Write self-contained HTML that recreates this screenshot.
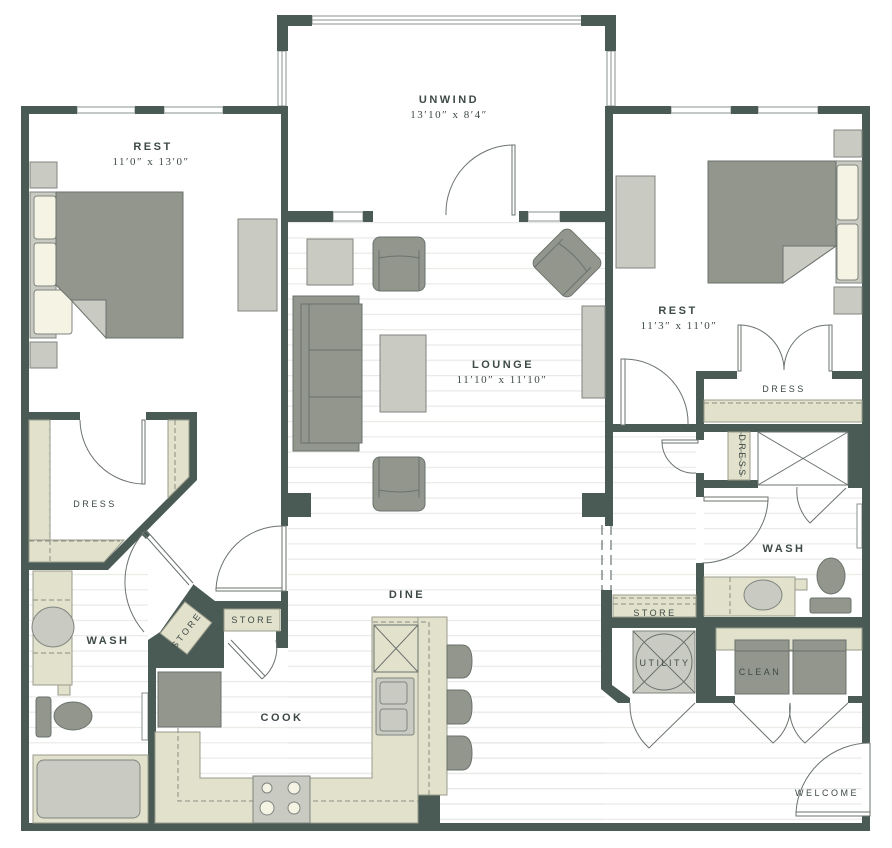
<!DOCTYPE html>
<html><head><meta charset="utf-8"><style>
html,body{margin:0;padding:0;background:#fff;}
svg{display:block;}
text{font-family:"Liberation Sans",sans-serif;fill:#3e4a46;letter-spacing:2.5px;text-anchor:middle;}
.s{font-family:"Liberation Serif",serif;letter-spacing:1.5px;font-size:11px;}
.l{font-size:11px;font-weight:bold;}
.m{font-size:9px;}
</style></head><body>
<svg width="892" height="848" viewBox="0 0 892 848" xmlns="http://www.w3.org/2000/svg">
<defs>
<pattern id="fl" x="0" y="222" width="892" height="15.3" patternUnits="userSpaceOnUse">
<rect x="0" y="0" width="892" height="1.2" fill="#e9eae7"/>
</pattern>
</defs>
<g stroke="none">
<rect x="288" y="222" width="317" height="601" fill="url(#fl)"/>
<rect x="440" y="703" width="422" height="120" fill="url(#fl)"/>
<rect x="612" y="432" width="84" height="165" fill="url(#fl)"/>
<rect x="704" y="488" width="158" height="90" fill="url(#fl)"/>
<rect x="29" y="570" width="119" height="185" fill="url(#fl)"/>
<rect x="156" y="668" width="216" height="110" fill="url(#fl)"/>
</g>

<g fill="#fff" stroke="#8a928d" stroke-width="1">
<rect x="312" y="16" width="270" height="8"/><line x1="312" y1="20" x2="582" y2="20"/>
<rect x="278" y="51" width="8" height="55"/><line x1="282" y1="51" x2="282" y2="106"/>
<rect x="607" y="51" width="8" height="55"/><line x1="611" y1="51" x2="611" y2="106"/>
<rect x="77" y="107" width="58" height="6"/><rect x="164" y="107" width="59" height="6"/>
<rect x="671" y="107" width="60" height="6"/><rect x="758" y="107" width="60" height="6"/>
<rect x="333" y="212" width="30" height="9"/><rect x="528" y="212" width="32" height="9"/>
<rect x="142" y="693" width="6" height="47"/><rect x="142" y="762" width="6" height="50"/>
<rect x="857" y="504" width="5" height="44"/>
</g>

<g fill="#4a5a55">
<path d="M277 15 H312 V26 H288 V51 H277 Z"/>
<path d="M581 15 H616 V51 H605 V26 H581 Z"/>
<rect x="21" y="106" width="56" height="8"/><rect x="135" y="106" width="29" height="8"/><rect x="223" y="106" width="65" height="8"/>
<rect x="21" y="106" width="8" height="725"/>
<rect x="21" y="823" width="849" height="8"/>
<rect x="605" y="106" width="66" height="8"/><rect x="731" y="106" width="27" height="8"/><rect x="818" y="106" width="52" height="8"/>
<rect x="862" y="106" width="8" height="637"/><rect x="862" y="815" width="8" height="16"/>
<rect x="281" y="106" width="7" height="420"/>
<rect x="288" y="211" width="45" height="11"/><rect x="363" y="211" width="10" height="11"/>
<rect x="519" y="211" width="9" height="11"/><rect x="560" y="211" width="46" height="11"/>
<rect x="605" y="106" width="8" height="420"/>
<rect x="287" y="493" width="24" height="24"/>
<rect x="582" y="493" width="30" height="24"/>
<rect x="281" y="591" width="7" height="57"/>
<rect x="215" y="601" width="73" height="8"/>
<rect x="276" y="631" width="12" height="17"/>
<rect x="29" y="412" width="51" height="8"/><rect x="146" y="412" width="51" height="8"/>
<path d="M189 412 H197 V480 L108 570 H29 V562 H104 L189 477 Z"/>
<path d="M143 528 L150 535 L146 539 L139 532 Z"/>
<path d="M193 584 L215 601 H224 V668 H156 V823 H148 V640 L160 632 L193 585 Z"/>
<rect x="418" y="795" width="22" height="28"/>
<rect x="601" y="590" width="11" height="95"/>
<path d="M601 685 L612 685 L630 698 L630 703 L618 703 L601 689 Z"/>
<rect x="612" y="617" width="258" height="11"/>
<rect x="696" y="628" width="9" height="75"/><rect x="705" y="628" width="11" height="75"/>
<rect x="696" y="696" width="39" height="7"/><rect x="848" y="696" width="22" height="7"/>
<rect x="696" y="371" width="41" height="8"/><rect x="832" y="371" width="30" height="8"/>
<rect x="696" y="371" width="8" height="61"/>
<rect x="613" y="424" width="249" height="8"/>
<rect x="696" y="432" width="8" height="8"/><rect x="696" y="473" width="8" height="24"/>
<rect x="704" y="480" width="54" height="8"/>
<rect x="848" y="432" width="22" height="56"/>
<rect x="696" y="563" width="8" height="54"/>
</g>

<g stroke="#4a5a55" stroke-width="1" fill="none">
<line x1="602" y1="525" x2="602" y2="590" stroke-dasharray="10,5"/>
<line x1="611" y1="525" x2="611" y2="590" stroke-dasharray="10,5"/>
</g>

<g fill="#e2e1cc" stroke="#9a9c8c" stroke-width="1">
<rect x="29" y="420" width="21" height="142"/>
<path d="M168 420 H189 V477 L168 498 Z"/>
<path d="M29 540 H124 L104 562 H29 Z"/>
<rect x="224" y="609" width="56" height="22"/>
<rect x="704" y="400" width="158" height="22"/>
<rect x="728" y="432" width="22" height="48"/>
<rect x="613" y="595" width="83" height="22"/>
<rect x="716" y="628" width="146" height="22"/>
<rect x="704" y="577" width="91" height="39"/>
<rect x="795" y="579" width="12" height="11"/>
<rect x="33" y="571" width="39" height="114"/>
<rect x="58" y="685" width="12" height="10"/>
<rect x="33" y="755" width="115" height="68"/>
<path d="M155 732 H200 V778 H372 V617 H447 V795 H418 V823 H155 Z"/>
<rect x="418" y="617" width="29" height="178"/>
<g transform="translate(186 628) rotate(-52)"><rect x="-20" y="-17" width="40" height="34"/></g>
</g>
<g stroke="#8b8e82" stroke-width="1" stroke-dasharray="5,3" fill="none">
<line x1="50" y1="420" x2="50" y2="562"/><line x1="29" y1="541" x2="120" y2="541"/>
<line x1="175" y1="420" x2="175" y2="490"/>
<line x1="704" y1="403" x2="862" y2="403"/>
<line x1="741" y1="432" x2="741" y2="480"/>
<line x1="613" y1="598" x2="696" y2="598"/><line x1="613" y1="604" x2="696" y2="604"/>
<line x1="33" y1="600" x2="72" y2="600"/><line x1="33" y1="653" x2="72" y2="653"/>
<line x1="730" y1="577" x2="730" y2="616"/>
<path d="M178 672 V801 H418 M429 795 V622 H372"/>
</g>

<g fill="#c9cac2" stroke="#7f867f" stroke-width="1">
<rect x="30" y="162" width="27" height="26"/><rect x="30" y="342" width="27" height="26"/>
<rect x="30" y="192" width="26" height="146"/>
<rect x="238" y="219" width="39" height="92"/>
<rect x="307" y="239" width="46" height="46"/>
<rect x="380" y="335" width="46" height="77"/>
<rect x="582" y="306" width="23" height="92"/>
<rect x="616" y="176" width="39" height="92"/>
<rect x="834" y="130" width="28" height="27"/><rect x="834" y="287" width="28" height="27"/>
<rect x="836" y="161" width="26" height="122"/>
<rect x="633" y="631" width="62" height="62"/>
<rect x="253" y="776" width="57" height="47"/>
<rect x="376" y="678" width="38" height="57" rx="2"/>
<rect x="380" y="682" width="27" height="22" rx="3"/><rect x="380" y="709" width="27" height="22" rx="3"/>
<ellipse cx="53" cy="627" rx="21" ry="20"/>
<ellipse cx="763" cy="595" rx="19" ry="15"/>
<rect x="37" y="760" width="103" height="58" rx="7"/>
</g>
<g fill="#f5f3e4" stroke="#7f867f">
<rect x="34" y="196" width="22" height="43" rx="3"/><rect x="34" y="243" width="22" height="43" rx="3"/><rect x="34" y="290" width="38" height="44" rx="3"/>
<rect x="837" y="165" width="21" height="55" rx="3"/><rect x="837" y="224" width="21" height="56" rx="3"/>
<circle cx="267" cy="788" r="5"/><circle cx="294" cy="788" r="6"/><circle cx="267" cy="808" r="7"/><circle cx="294" cy="808" r="6"/>
</g>

<g fill="#92968d" stroke="#6b736d" stroke-width="1">
<path d="M56 192 H183 V338 H106 V300 H71 L56 285 Z"/>
<path d="M708 161 H836 V246 L783 283 H708 Z"/>
<rect x="293" y="296" width="66" height="155"/><rect x="301" y="304" width="61" height="139"/>
<line x1="309" y1="304" x2="309" y2="443"/><line x1="309" y1="350" x2="362" y2="350"/><line x1="309" y1="397" x2="362" y2="397"/>
<rect x="373" y="237" width="52" height="54" rx="7"/>
<rect x="373" y="457" width="52" height="54" rx="7"/>
<g transform="translate(567 263) rotate(45)"><rect x="-26" y="-26" width="52" height="52" rx="7"/><path d="M-20 26 V-14 M20 26 V-14 M-20 -8 Q0 -12 20 -8" fill="none"/></g>
<rect x="158" y="672" width="63" height="55"/>
<rect x="735" y="640" width="54" height="54"/><rect x="793" y="640" width="53" height="54"/>
<rect x="36" y="697" width="15" height="40" rx="3"/><ellipse cx="73" cy="716" rx="19" ry="14"/>
<ellipse cx="831" cy="576" rx="14" ry="18"/><rect x="810" y="598" width="41" height="15" rx="2"/>
<path d="M447 645 H462 Q472 645 472 661 Q472 678 462 678 H447 Z"/>
<path d="M447 690 H462 Q472 690 472 707 Q472 724 462 724 H447 Z"/>
<path d="M447 736 H462 Q472 736 472 753 Q472 770 462 770 H447 Z"/>
</g>
<g fill="#c9cac2" stroke="#6b736d"><path d="M71 300 L106 338 V300 Z"/><path d="M783 283 L836 246 H783 Z"/></g>
<g fill="none" stroke="#6b736d" stroke-width="1">
<path d="M379 291 V250 M419 291 V250 M379 258 Q399 254 419 258"/>
<path d="M379 457 V498 M419 457 V498 M379 490 Q399 494 419 490"/>
<rect x="374" y="625" width="44" height="47"/><path d="M374 625 L418 672 M418 625 L374 672"/>
<rect x="758" y="432" width="90" height="53" fill="#fff"/><path d="M758 432 L848 485 M848 432 L758 485"/>
<circle cx="664" cy="662" r="28"/><path d="M633 631 L695 693 M695 631 L633 693"/>
<line x1="735" y1="651" x2="846" y2="651"/>
</g>

<g fill="none" stroke="#6b736d" stroke-width="1">
<rect x="512" y="145" width="3" height="70" fill="#fff"/><path d="M512 145 A68 68 0 0 0 446 215"/>
<path d="M80 420 A65 65 0 0 0 144 484"/><rect x="142" y="420" width="3" height="64" fill="#fff"/>
<rect x="282" y="526" width="4" height="65" fill="#fff"/><rect x="216" y="588" width="66" height="3" fill="#fff"/><path d="M282 526 A66 66 0 0 0 216 589"/>
<path d="M145 531 A75 75 0 0 0 144 632"/><path d="M146 530 L193 583 M142 532 L189 585"/>
<path d="M228 643 L262 679 M231 640 L265 676"/><path d="M262 679 A40 40 0 0 0 276 640"/>
<rect x="738" y="325" width="3" height="46" fill="#fff"/><rect x="829" y="325" width="3" height="46" fill="#fff"/>
<path d="M741 325 A45 45 0 0 1 784 370 A45 45 0 0 1 829 325"/>
<rect x="621" y="359" width="4" height="66" fill="#fff"/><path d="M625 359 A64 64 0 0 1 688 425"/>
<rect x="662" y="440" width="36" height="3" fill="#fff"/><path d="M662 442 A32 32 0 0 0 696 473"/>
<rect x="704" y="497" width="64" height="4" fill="#fff"/><path d="M768 500 A66 66 0 0 1 702 563"/>
<path d="M797 487 A45 45 0 0 0 810 523 L846 488"/>
<path d="M630 703 A58 58 0 0 0 649 748 L695 703"/>
<path d="M733 703 L773 743 A45 45 0 0 0 790 703 A45 45 0 0 0 805 743 L848 703"/>
<rect x="796" y="812" width="74" height="4" fill="#fff"/><path d="M796 812 A74 74 0 0 1 870 743"/>
<line x1="870" y1="743" x2="870" y2="815"/>
</g>

<text class="l" x="449" y="103">UNWIND</text>
<text class="s" x="449" y="118">13′10″ x 8′4″</text>
<text class="l" x="153" y="150">REST</text>
<text class="s" x="151" y="165">11′0″ x 13′0″</text>
<text class="l" x="678" y="314">REST</text>
<text class="s" x="679" y="329">11′3″ x 11′0″</text>
<text class="l" x="503" y="368">LOUNGE</text>
<text class="s" x="502" y="383">11′10″ x 11′10″</text>
<text class="l" x="407" y="598">DINE</text>
<text class="l" x="108" y="644">WASH</text>
<text class="l" x="282" y="721">COOK</text>
<text class="l" x="784" y="552">WASH</text>
<text class="m" x="95" y="507">DRESS</text>
<text class="m" x="784" y="392">DRESS</text>
<text class="m" x="253" y="623">STORE</text>
<text class="m" x="655" y="616">STORE</text>
<text class="m" x="665" y="666">UTILITY</text>
<text class="m" x="760" y="675">CLEAN</text>
<text class="m" x="827" y="796">WELCOME</text>
<text class="m" x="0" y="0" transform="translate(739 456) rotate(90)">DRESS</text>
<text class="m" x="0" y="0" transform="translate(189 632) rotate(-52)">STORE</text>
</svg>
</body></html>
